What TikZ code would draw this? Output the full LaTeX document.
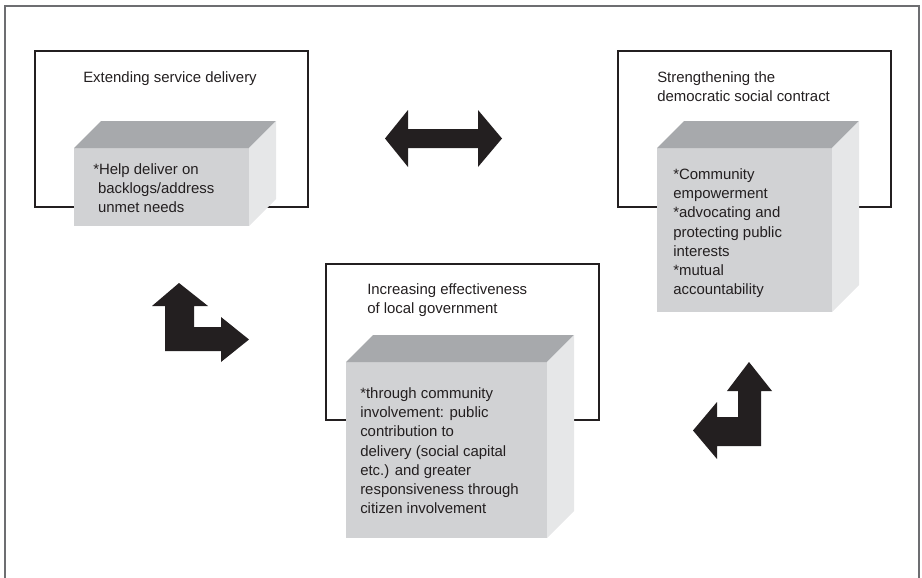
\documentclass[tikz,border=0pt]{standalone}
\usepackage{fontspec}
\setmainfont{Liberation Sans}

\definecolor{ink}{HTML}{231F20}
\definecolor{framegray}{HTML}{6D6E71}
\definecolor{frontgray}{HTML}{D1D2D4}
\definecolor{topgray}{HTML}{A7A9AC}
\definecolor{sidegray}{HTML}{E6E7E8}

\begin{document}
\begin{tikzpicture}[x=0.75pt, y=-0.75pt,
		panel/.style={draw=ink, line width=1.5pt},
		frontface/.style={fill=frontgray},
		topface/.style={fill=topgray},
		sideface/.style={fill=sidegray},
		heading/.style={anchor=north west, inner sep=0pt, align=left, text=ink,
			font=\fontsize{11.2}{14.4}\selectfont},
		fatarrow/.style={fill=ink, draw=none}]
		\useasboundingbox (0, 0) rectangle (922, 578);
		
		% Frame
		\draw[framegray, line width=0.9pt] (5, 578) -- (5, 6) -- (919, 6) -- (919, 578);
		
		% Panels
		\draw[panel] (35, 51) rectangle (308, 207);
		\draw[panel] (618, 51) rectangle (891, 207);
		\draw[panel] (326, 264) rectangle (599, 420);
		\node[heading] (service) at (83, 71.5) {Extending service delivery};
		\node[heading] (contract) at (657, 71.5) {Strengthening the\\democratic social contract};
		\node[heading] (government) at (367, 283.5) {Increasing effectiveness\\of local government};
		
		% Blocks
		\fill[frontface] (74, 148) rectangle (249, 226);
		\fill[topface] (74, 148) -- (101, 121) -- (276, 121) -- (249, 148) -- cycle;
		\fill[sideface] (249, 148) -- (276, 121) -- (276, 199) -- (249, 226) -- cycle;
		\node[heading] (backlogs) at (93, 163.5) {*Help deliver on\\\hspace*{3.6pt}backlogs/address\\\hspace*{3.6pt}unmet needs};
		
		\fill[frontface] (657, 148) rectangle (832, 312);
		\fill[topface] (657, 148) -- (684, 121) -- (859, 121) -- (832, 148) -- cycle;
		\fill[sideface] (832, 148) -- (859, 121) -- (859, 285) -- (832, 312) -- cycle;
		\node[heading] (empowerment) at (673, 168.5) {*Community\\empowerment\\*advocating and\\protecting public\\interests\\*mutual\\accountability};
		
		\fill[frontface] (346, 362) rectangle (547, 538);
		\fill[topface] (346, 362) -- (373, 335) -- (574, 335) -- (547, 362) -- cycle;
		\fill[sideface] (547, 362) -- (574, 335) -- (574, 511) -- (547, 538) -- cycle;
		\node[heading] (involvement) at (360, 387.5) {*through community\\involvement: public\\contribution to\\delivery (social capital\\etc.) and greater\\responsiveness through\\citizen involvement};
		
		% Arrows
		\fill[fatarrow] (385, 138.5) -- (408, 110) -- (408, 129) -- (478, 129) -- (478, 110)
			-- (502, 138.5) -- (478, 167) -- (478, 148) -- (408, 148) -- (408, 167) -- cycle;
		\fill[fatarrow] (179, 283) -- (208, 306) -- (194, 306) -- (194, 327) -- (221, 327)
			-- (221, 317) -- (249, 339.5) -- (221, 362) -- (221, 351) -- (165, 351)
			-- (165, 306) -- (152, 306) -- cycle;
		\fill[fatarrow] (749, 362) -- (772, 391) -- (761, 391) -- (761, 446) -- (717, 446)
			-- (717, 459) -- (693, 430.5) -- (717, 402) -- (717, 417) -- (738, 417)
			-- (738, 391) -- (727, 391) -- cycle;
	\end{tikzpicture}
\end{document}
